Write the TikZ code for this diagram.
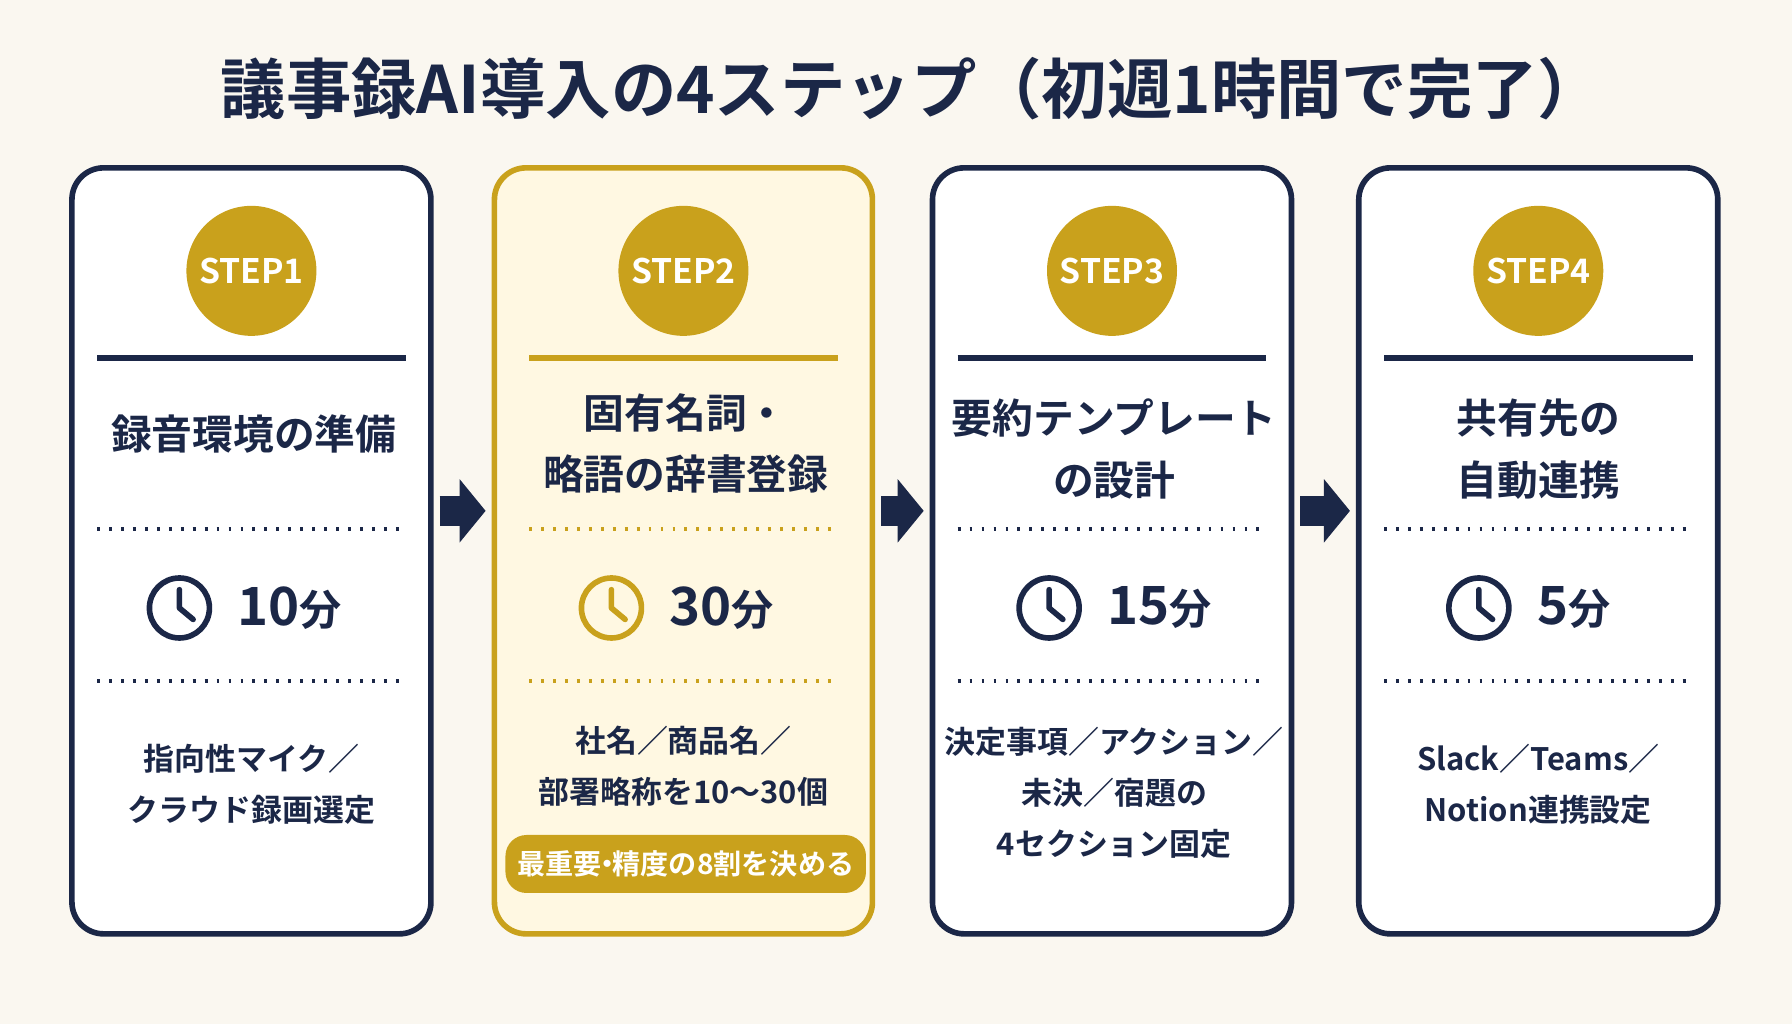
\documentclass[tikz,border=0pt]{standalone}
\usepackage{fontspec}
\setmainfont{Noto Sans CJK JP}[BoldFont={Noto Sans CJK JP Bold}]
\usetikzlibrary{arrows.meta}
\definecolor{navy}{HTML}{1B2747}
\definecolor{gold}{HTML}{C9A11C}
\definecolor{paper}{HTML}{FAF7F0}
\definecolor{cream}{HTML}{FFF8E2}
\begin{document}
\begin{tikzpicture}[x=0.011429cm,y=-0.011429cm,
        card/.style = {draw=navy,line width=1.6pt,rounded corners=9pt,fill=white,minimum width=3.59cm,minimum height=7.66cm},
        goldCard/.style = {card,draw=gold,fill=cream,minimum width=3.78cm},
        stepNode/.style = {shape=circle,fill=gold,text=white,minimum size=1.3cm,inner sep=0pt,font=\bfseries\fontsize{9.6}{9.6}\selectfont},
        headNode/.style = {text=navy,align=center,font=\bfseries\fontsize{11.6}{17.5}\selectfont},
        timeNode/.style = {text=navy,font=\bfseries\fontsize{15}{15}\selectfont},
        noteNode/.style = {text=navy,align=center,font=\bfseries\fontsize{8.8}{14.5}\selectfont},
        clock/.style = {draw=navy,line width=1.6pt,circle,minimum size=0.6cm},
        dots/.style = {navy,line width=1.2pt,dash pattern=on 0.8pt off 2.6pt},
        flow/.style = {navy,line width=0.3cm,-{Triangle[width=0.62cm,length=0.26cm]},shorten <=0.06cm,shorten >=0.06cm}
        ]
        \fill[paper] (0,0) rectangle (1568,896);
        \node[text=navy,font=\bfseries\fontsize{18.6}{18.6}\selectfont] (title) at (798,78) {議事録AI導入の4ステップ（初週1時間で完了）};
        % cards
        \node[card] (c1) at (220,482) {};
        \node[goldCard] (c2) at (598,482) {};
        \node[card] (c3) at (973,482) {};
        \node[card] (c4) at (1346,482) {};
        % step badges and rules
        \foreach \i/\x in {1/220,2/598,3/973,4/1346} {
            \node[stepNode] (s\i) at (\x,237) {STEP\i};
        }
        \foreach \i/\x/\c in {1/220/navy,3/973/navy,4/1346/navy,2/598/gold} {
            \draw[\c,line width=1.6pt] (\x-135,313) -- (\x+135,313);
            \draw[dots,draw=\c] (\x-135,463) -- (\x+135,463);
            \draw[dots,draw=\c] (\x-135,596) -- (\x+135,596);
        }
        % headings
        \node[headNode] (h1) at (222,380) {録音環境の準備};
        \node[headNode] (h2) at (600,388) {固有名詞・\\略語の辞書登録};
        \node[headNode] (h3) at (975,393) {要約テンプレート\\の設計};
        \node[headNode] (h4) at (1346,393) {共有先の\\自動連携};
        % times
        \foreach \i/\x/\t/\c in {1/157/10/navy,2/535/30/gold,3/918/15/navy,4/1294/5/navy} {
            \node[clock,draw=\c] (k\i) at (\x,532) {};
            \draw[\c,line width=1.6pt,line cap=round] (k\i.center) -- ++(0,-16) (k\i.center) -- ++(12,10);
            \node[timeNode,anchor=west] (t\i) at (\x+40,532) {\t{\fontsize{12}{12}\selectfont 分}};
        }
        % notes
        \node[noteNode] (n1) at (220,686) {指向性マイク／\\クラウド録画選定};
        \node[noteNode] (n2) at (598,670) {社名／商品名／\\部署略称を10〜30個};
        \node[noteNode] (n3) at (975,694) {決定事項／アクション／\\未決／宿題の\\4セクション固定};
        \node[noteNode] (n4) at (1346,686) {Slack／Teams／\\Notion連携設定};
        \node[fill=gold,text=white,rounded corners=6pt,minimum width=3.47cm,minimum height=0.58cm,
            font=\bfseries\fontsize{8}{8}\selectfont] (b2) at (600,756) {最重要\kern-0.3em・\kern-0.3em精度の8割を決める};
        % arrows
        \draw[flow] ([yshift=0.4cm]c1.east) -- ([yshift=0.4cm]c2.west);
        \draw[flow] ([yshift=0.4cm]c2.east) -- ([yshift=0.4cm]c3.west);
        \draw[flow] ([yshift=0.4cm]c3.east) -- ([yshift=0.4cm]c4.west);
    \end{tikzpicture}
\end{document}
